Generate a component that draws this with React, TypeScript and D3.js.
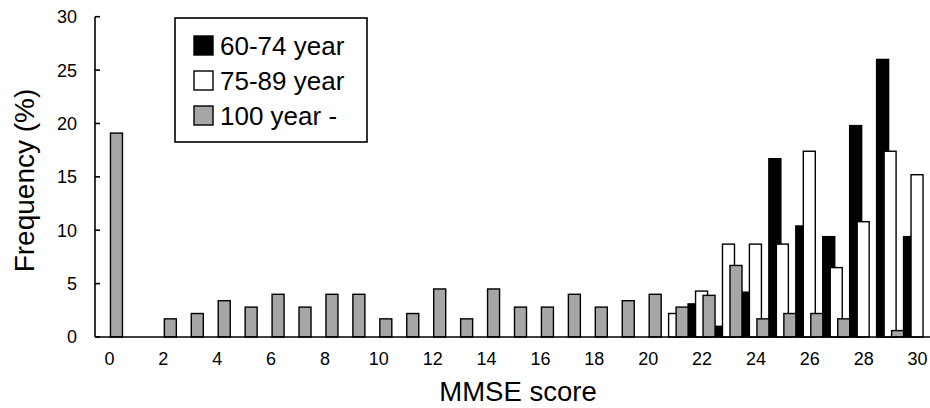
import React from "react";
import * as d3 from "d3";

// MMSE score categories 0..30
const scores = d3.range(0, 31);
const seriesNames = ["60-74 year", "75-89 year", "100 year -"];
const seriesFill = ["#000000", "#ffffff", "#a6a6a6"];

// frequency (%) per score
const age60to74 = [0, 0, 0, 0, 0, 0, 0, 0, 0, 0, 0, 0, 0, 0, 0, 0, 0, 0, 0, 0, 0, 0, 3.1, 1.0, 4.2, 16.7, 10.4, 9.4, 19.8, 26.0, 9.4];
const age75to89 = [0, 0, 0, 0, 0, 0, 0, 0, 0, 0, 0, 0, 0, 0, 0, 0, 0, 0, 0, 0, 0, 2.2, 4.3, 8.7, 8.7, 8.7, 17.4, 6.5, 10.8, 17.4, 15.2];
const age100plus = [19.1, 0, 1.7, 2.2, 3.4, 2.8, 4.0, 2.8, 4.0, 4.0, 1.7, 2.2, 4.5, 1.7, 4.5, 2.8, 2.8, 4.0, 2.8, 3.4, 4.0, 2.8, 3.9, 6.7, 1.7, 2.2, 2.2, 1.7, 0, 0.6, 0];

const yTicks = [0, 5, 10, 15, 20, 25, 30];
const xTickLabels = d3.range(0, 31, 2);

const W = 930, H = 408;
const FONT = "Arial, 'Liberation Sans', Helvetica, sans-serif";

export default function App() {
  const allSeries = [age60to74, age75to89, age100plus];

  const x = d3.scaleBand<number>().domain(scores).range([96, 931]).paddingInner(0).paddingOuter(0);
  const offset = d3.scalePoint<number>().domain([0, 1, 2]).range([-8, 7]);
  const y = d3.scaleLinear().domain([0, 30]).range([337, 16.7]);
  const barW = 12;
  const cx = (s: number) => (x(s) ?? 0) + x.bandwidth() / 2;

  return (
    <svg width={W} height={H} style={{ position: "absolute", left: 0, top: 0, background: "#fff" }}
      fontFamily={FONT}>
      {/* bars, series after series so later ones sit on top */}
      {allSeries.map((vals, si) => (
        <g key={si}>
          {vals.map((v, i) => v > 0 ? (
            <rect key={i}
              x={cx(scores[i]) + (offset(si) ?? 0) - barW / 2}
              y={y(v)}
              width={barW}
              height={y(0) - y(v)}
              fill={seriesFill[si]}
              stroke="#000" strokeWidth={1.4} />
          ) : null)}
        </g>
      ))}

      {/* axes */}
      <line x1={95} x2={930} y1={y(0)} y2={y(0)} stroke="#000" strokeWidth={1.6} />
      <line x1={95} x2={95} y1={y(30)} y2={y(0)} stroke="#000" strokeWidth={1.6} />
      {yTicks.map(t => (
        <g key={t}>
          <line x1={95} x2={100} y1={y(t)} y2={y(t)} stroke="#000" strokeWidth={1.6} />
          <text x={77} y={y(t)} dy="0.36em" textAnchor="end" fontSize={18}>{t}</text>
        </g>
      ))}
      {xTickLabels.map(t => (
        <text key={t} x={cx(t)} y={364.5} textAnchor="middle" fontSize={18}>{t}</text>
      ))}

      <text x={518} y={401} textAnchor="middle" fontSize={27.5}>MMSE score</text>
      <text transform="translate(33.5,180.5) rotate(-90)" textAnchor="middle" fontSize={28}>Frequency (%)</text>

      {/* legend */}
      <rect x={175} y={18} width={192} height={124} fill="#fff" stroke="#000" strokeWidth={1.6} />
      {seriesNames.map((name, i) => (
        <g key={name} transform={`translate(194,${36 + i * 35})`}>
          <rect x={0} y={0} width={19} height={19} fill={seriesFill[i]} stroke="#000" strokeWidth={1.4} />
          <text x={26} y={18.5} fontSize={26}>{name}</text>
        </g>
      ))}
    </svg>
  );
}
